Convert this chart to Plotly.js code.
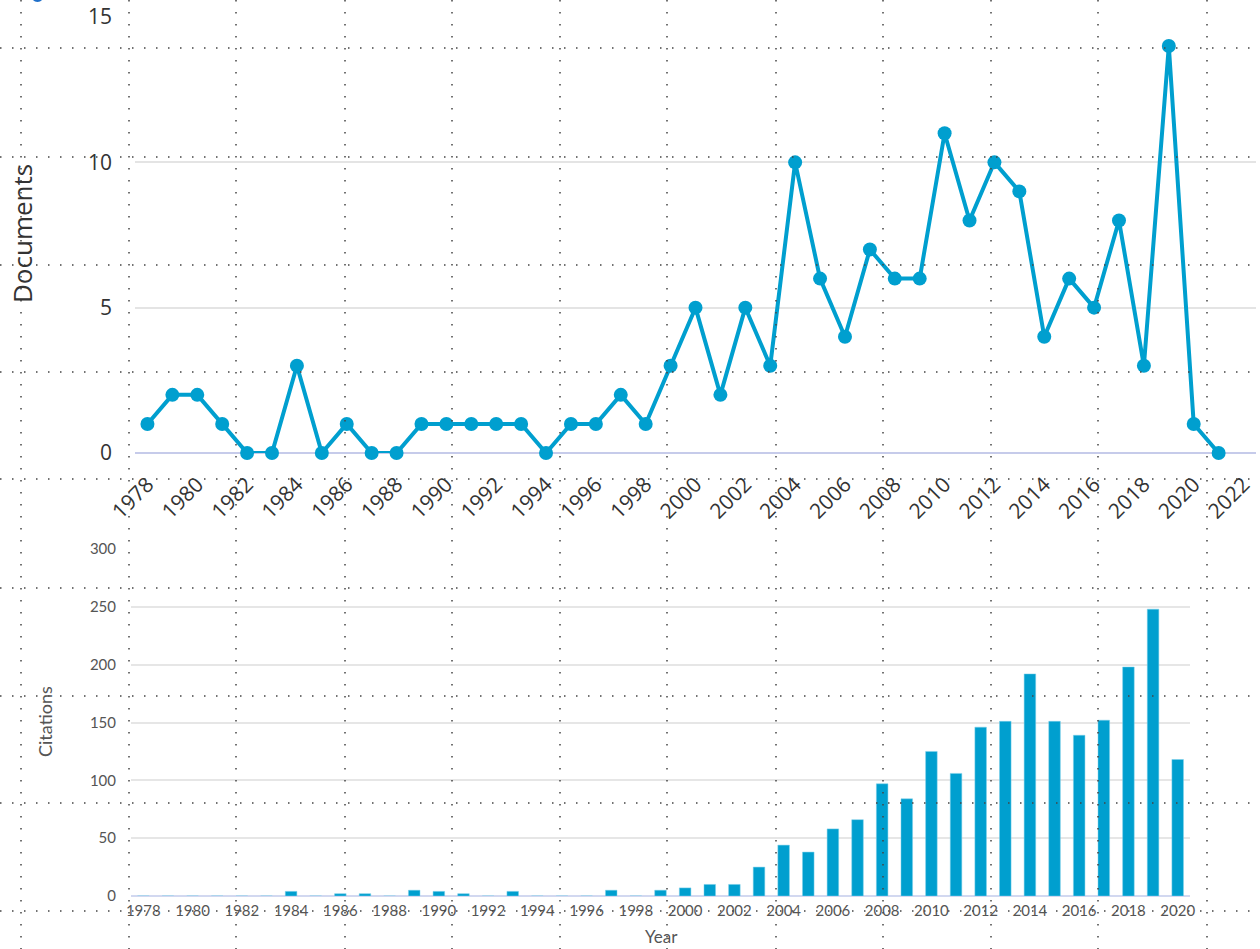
<!DOCTYPE html>
<html>
<head>
<meta charset="utf-8">
<script src="https://cdn.plot.ly/plotly-3.0.1.min.js"></script>
<style>html,body{margin:0;padding:0;background:#fff;}#chart{width:1260px;height:949px;}</style>
</head>
<body>
<div id="chart"></div>
<script>
// ---- data ----
const docYears = [1978,1979,1980,1981,1982,1983,1984,1985,1986,1987,1988,1989,1990,1991,1992,1993,1994,1995,1996,1997,1998,1999,2000,2001,2002,2003,2004,2005,2006,2007,2008,2009,2010,2011,2012,2013,2014,2015,2016,2017,2018,2019,2020,2021];
const documents = [1,2,2,1,0,0,3,0,1,0,0,1,1,1,1,1,0,1,1,2,1,3,5,2,5,3,10,6,4,7,6,6,11,8,10,9,4,6,5,8,3,14,1,0];
const citYears = [1978,1979,1980,1981,1982,1983,1984,1985,1986,1987,1988,1989,1990,1991,1992,1993,1994,1995,1996,1997,1998,1999,2000,2001,2002,2003,2004,2005,2006,2007,2008,2009,2010,2011,2012,2013,2014,2015,2016,2017,2018,2019,2020];
const citations = [0,0,0,0,0,0,4,0,2,2,0,5,4,2,0,4,0,0,0,5,0,5,7,10,10,25,44,38,58,66,97,84,125,106,146,151,192,151,139,152,198,248,118];
const topTicks = [1978,1980,1982,1984,1986,1988,1990,1992,1994,1996,1998,2000,2002,2004,2006,2008,2010,2012,2014,2016,2018,2020,2022];
const bottomTicks = [1978,1980,1982,1984,1986,1988,1990,1992,1994,1996,1998,2000,2002,2004,2006,2008,2010,2012,2014,2016,2018,2020];
const docTicks = [0,5,10,15];
const citTicks = [0,50,100,150,200,250,300];

const W = 1260, H = 949;
const px = v => v / W;
const py = v => 1 - v / H;
const blue = '#009fcf';

const traces = [
  {
    x: docYears, y: documents, type: 'scatter', mode: 'lines+markers',
    xaxis: 'x', yaxis: 'y', cliponaxis: false,
    line: {color: blue, width: 4},
    marker: {color: blue, size: 14},
    hoverinfo: 'x+y'
  },
  {
    x: citYears, y: citations, type: 'bar',
    xaxis: 'x2', yaxis: 'y2',
    marker: {color: blue, line: {color: '#7fd0ea', width: 0.5}},
    hoverinfo: 'x+y'
  }
];

// dotted background grid overlay
const shapes = [];
const vx = [21,129,236,345,452,560,667,776,883,991,1098,1207];
const hy = [48,157,265,372,479,588,696,803,911];
vx.forEach(x => shapes.push({type:'line', xref:'paper', yref:'paper', x0:px(x), x1:px(x), y0:1, y1:0,
  line:{color:'#444', width:1.5, dash:'1.5px,10.5px'}, layer:'above'}));
hy.forEach(y => shapes.push({type:'line', xref:'paper', yref:'paper', x0:0, x1:1, y0:py(y), y1:py(y),
  line:{color:'#444', width:1.5, dash:'1.5px,10.5px'}, layer:'above'}));
// partial icon at top-left
shapes.push({type:'circle', xref:'paper', yref:'paper', x0:px(31), x1:px(44), y0:py(2), y1:py(-11),
  fillcolor:'#1f6fc9', line:{width:0}, layer:'above'});

const layout = {
  width: W, height: H,
  margin: {l:0, r:0, t:0, b:0},
  paper_bgcolor: '#fff', plot_bgcolor: '#fff',
  showlegend: false,
  bargap: 0.53,
  font: {family: 'Open Sans, sans-serif', color: '#333'},
  xaxis: {
    domain: [px(135), px(1256)], range: [1977.5, 2022.5],
    tickmode: 'array', tickvals: topTicks, ticktext: topTicks.map(String),
    tickangle: -45, showgrid: false, zeroline: false, showline: false, ticks: '',
    ticklabelstandoff: 14,
    tickfont: {family: 'Open Sans, sans-serif', size: 21, color: '#333'},
    anchor: 'y'
  },
  yaxis: {
    domain: [py(453), py(17)], range: [0, 15],
    tickmode: 'array', tickvals: docTicks, ticktext: docTicks.map(String),
    showgrid: true, gridcolor: '#e4e4e4', gridwidth: 2,
    zeroline: true, zerolinecolor: '#c6cbea', zerolinewidth: 1.5,
    showline: false, ticks: '', ticklabelstandoff: 22,
    tickfont: {family: 'Open Sans, sans-serif', size: 21, color: '#333'},
    anchor: 'x'
  },
  xaxis2: {
    domain: [px(131), px(1190)], range: [1977.5, 2020.5],
    tickmode: 'array', tickvals: bottomTicks, ticktext: bottomTicks.map(String),
    tickangle: 0, showgrid: false, zeroline: false, showline: false, ticks: '',
    ticklabelstandoff: 4,
    tickfont: {family: 'Lato, sans-serif', size: 15, color: '#555'},
    anchor: 'y2'
  },
  yaxis2: {
    domain: [py(896), py(549)], range: [0, 300],
    tickmode: 'array', tickvals: citTicks, ticktext: citTicks.map(String),
    showgrid: true, gridcolor: '#e6e6e6', gridwidth: 2,
    zeroline: true, zerolinecolor: '#d2d8f0', zerolinewidth: 1.5,
    showline: false, ticks: '', ticklabelstandoff: 14,
    tickfont: {family: 'Lato, sans-serif', size: 15, color: '#555'},
    anchor: 'x2'
  },
  annotations: [
    {text: 'Documents', xref: 'paper', yref: 'paper', x: px(22), y: py(234), textangle: -90,
     showarrow: false, xanchor: 'center', yanchor: 'middle',
     font: {family: 'Open Sans, sans-serif', size: 26, color: '#333'}},
    {text: 'Citations', xref: 'paper', yref: 'paper', x: px(45), y: py(722), textangle: -90,
     showarrow: false, xanchor: 'center', yanchor: 'middle',
     font: {family: 'Lato, sans-serif', size: 18, color: '#555'}},
    {text: 'Year', xref: 'paper', yref: 'paper', x: px(661), y: py(936),
     showarrow: false, xanchor: 'center', yanchor: 'middle',
     font: {family: 'Lato, sans-serif', size: 17, color: '#555'}}
  ],
  shapes: shapes
};

Plotly.newPlot('chart', traces, layout, {displayModeBar: false, responsive: false});
</script>
</body>
</html>
